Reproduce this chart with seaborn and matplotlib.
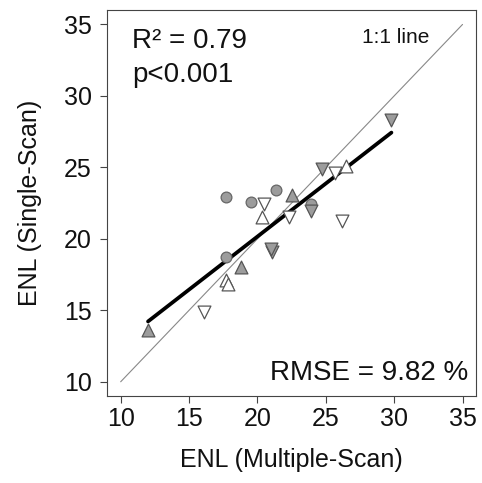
import numpy as np
import pandas as pd
import seaborn as sns
import matplotlib
matplotlib.use('Agg')
import matplotlib.pyplot as plt

# ENL values, one group per marker style
circle_gray_x = [17.7, 19.5, 21.35, 23.95, 17.7]
circle_gray_y = [22.9, 22.55, 23.4, 22.45, 18.75]

up_gray_x = [22.5, 18.8, 12.0]
up_gray_y = [23.1, 18.05, 13.65]

down_gray_x = [23.9, 21.05, 21.0, 24.75, 29.8]
down_gray_y = [21.95, 19.1, 19.3, 24.9, 28.3]

up_open_x = [20.3, 17.7, 17.85, 26.5]
up_open_y = [21.5, 17.1, 16.85, 25.1]

down_open_x = [20.5, 22.3, 26.2, 16.1, 25.7]
down_open_y = [22.45, 21.5, 21.25, 14.9, 24.6]

r2_text = 'R² = 0.79'
p_text = 'p<0.001'
rmse_text = 'RMSE = 9.82 %'

groups = [
    ('circle_gray', circle_gray_x, circle_gray_y),
    ('up_gray', up_gray_x, up_gray_y),
    ('down_gray', down_gray_x, down_gray_y),
    ('up_open', up_open_x, up_open_y),
    ('down_open', down_open_x, down_open_y),
]
df = pd.concat([
    pd.DataFrame({'group': g, 'multi': x, 'single': y}) for g, x, y in groups
], ignore_index=True)

sns.set_style('white')
plt.rcParams['font.family'] = ['Liberation Sans', 'DejaVu Sans']
plt.rcParams['text.color'] = '#111111'
plt.rcParams['axes.labelcolor'] = '#111111'
plt.rcParams['xtick.color'] = '#111111'
plt.rcParams['ytick.color'] = '#111111'

fig = plt.figure(figsize=(4.82, 4.83), dpi=100)
ax = fig.add_axes([0.222, 0.180, 0.766, 0.799])

# 1:1 line
ax.plot([10, 35], [10, 35], color='#888888', lw=0.8, zorder=1)

# regression line over the data range
sns.regplot(data=df, x='multi', y='single', scatter=False, ci=None,
            color='black', line_kws={'lw': 2.7, 'zorder': 2}, ax=ax)

styles = {
    'circle_gray': ('o', '#9c9c9c', '#666666', 60),
    'up_gray': ('^', '#9c9c9c', '#555555', 85),
    'down_gray': ('v', '#9c9c9c', '#555555', 85),
    'up_open': ('^', 'white', '#555555', 85),
    'down_open': ('v', 'white', '#555555', 85),
}
for g, (m, fc, ec, s) in styles.items():
    sub = df[df['group'] == g]
    sns.scatterplot(data=sub, x='multi', y='single', marker=m, color=fc,
                    edgecolor=ec, linewidth=0.9, s=s, ax=ax, zorder=3)

ax.set_xlim(9, 36)
ax.set_ylim(9, 36)
ax.set_xticks([10, 15, 20, 25, 30, 35])
ax.set_yticks([10, 15, 20, 25, 30, 35])
ax.tick_params(axis='both', direction='out', length=5, width=0.8,
               color='#444444', labelsize=18, bottom=True, left=True)
ax.tick_params(axis='x', pad=3)
ax.tick_params(axis='y', pad=6)
for sp in ax.spines.values():
    sp.set_visible(True)
    sp.set_color('#444444')
    sp.set_linewidth(0.8)

ax.set_xlabel('ENL (Multiple-Scan)', fontsize=18, labelpad=12)
ax.set_ylabel('ENL (Single-Scan)', fontsize=18, labelpad=16)

ax.text(0.068, 0.902, r2_text, transform=ax.transAxes, fontsize=20,
        ha='left', va='baseline')
ax.text(0.068, 0.814, p_text, transform=ax.transAxes, fontsize=20,
        ha='left', va='baseline')
ax.text(0.69, 0.914, '1:1 line', transform=ax.transAxes, fontsize=15,
        ha='left', va='baseline')
ax.text(0.979, 0.042, rmse_text, transform=ax.transAxes, fontsize=20,
        ha='right', va='baseline')

fig.savefig('out.png', dpi=100)
